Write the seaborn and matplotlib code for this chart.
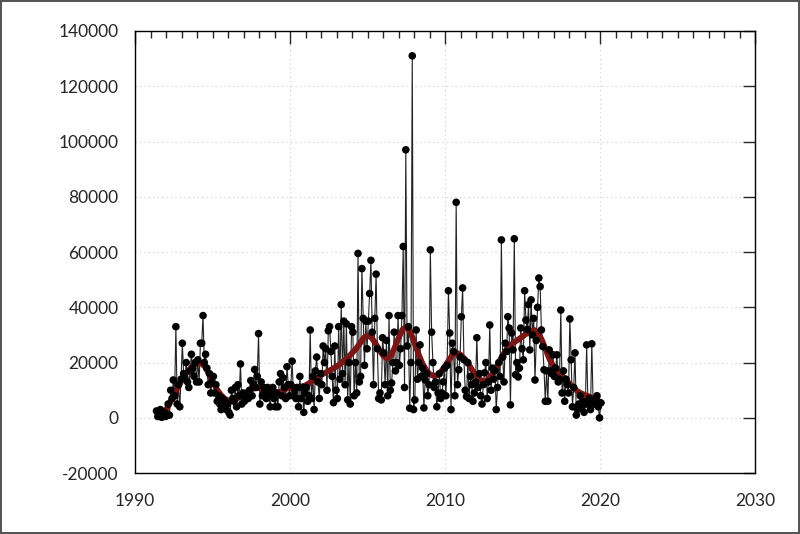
import numpy as np
import pandas as pd
import matplotlib
matplotlib.use("Agg")
import matplotlib.pyplot as plt
from matplotlib.ticker import MultipleLocator
import seaborn as sns

# monthly values in thousands, first month is May 1991
first_month = "1991-05"
counts_k = [
    2.5, 0.5, 1.5, 3.0, 0.2, 0.8, 2.0, 0.5,                              # 1991
    1.0, 5.0, 1.0, 10.0, 7.0, 13.7, 8.0, 33.0, 5.0, 12.0, 4.0, 14.0,     # 1992
    27.0, 16.0, 14.5, 20.0, 13.0, 11.0, 17.0, 23.0, 18.0, 15.0, 20.0, 13.0,  # 1993
    21.0, 13.0, 27.0, 27.0, 37.0, 20.0, 23.0, 18.0, 12.0, 16.0, 9.0, 13.0,   # 1994
    15.0, 9.0, 12.0, 6.0, 8.0, 5.0, 3.0, 7.0, 4.0, 6.0, 3.0, 5.0,        # 1995
    2.0, 1.0, 10.0, 7.0, 6.0, 11.0, 4.0, 12.0, 8.0, 19.5, 5.0, 9.0,      # 1996
    6.0, 8.0, 9.0, 7.0, 10.0, 13.5, 8.0, 12.0, 17.5, 11.0, 15.0, 30.5,   # 1997
    5.0, 13.0, 8.0, 11.0, 10.0, 7.0, 11.0, 8.0, 4.0, 9.0, 11.0, 7.0,     # 1998
    4.0, 9.0, 4.0, 13.0, 16.0, 8.0, 14.5, 11.0, 7.0, 18.5, 12.0, 8.0,    # 1999
    12.0, 20.5, 8.0, 10.0, 7.0, 11.0, 4.0, 15.0, 7.0, 11.0, 2.0, 9.0,    # 2000
    11.0, 6.0, 8.0, 31.8, 7.0, 15.0, 3.0, 17.0, 22.0, 13.0, 7.0, 16.0,   # 2001
    12.0, 26.0, 20.0, 25.0, 10.0, 31.5, 33.0, 24.0, 15.0, 5.5, 26.0, 10.0,   # 2002
    7.0, 33.0, 14.0, 41.0, 16.0, 35.0, 12.0, 34.0, 6.5, 20.0, 5.0, 33.0,     # 2003
    31.0, 8.0, 20.0, 9.0, 59.5, 13.0, 15.0, 54.0, 36.0, 19.0, 35.0, 25.0,    # 2004
    35.0, 45.0, 57.0, 31.0, 12.0, 36.0, 52.0, 25.0, 7.0, 9.0, 6.5, 29.0,     # 2005
    23.5, 12.0, 28.0, 8.0, 37.0, 10.0, 12.6, 20.0, 31.0, 17.0, 20.0, 37.0,   # 2006
    19.0, 25.0, 37.0, 62.0, 11.0, 97.0, 26.0, 33.0, 3.5, 20.0, 131.0, 3.0,   # 2007
    6.5, 31.8, 14.0, 20.0, 26.4, 15.0, 18.0, 3.6, 13.7, 16.0, 8.0, 12.0,     # 2008
    60.8, 31.0, 20.0, 11.0, 13.0, 4.0, 9.0, 16.0, 7.0, 9.0, 13.0, 18.0,      # 2009
    8.0, 19.0, 46.0, 30.7, 3.0, 27.0, 24.0, 8.0, 78.0, 12.0, 17.4, 22.0,     # 2010
    36.6, 47.0, 21.0, 10.0, 7.7, 20.0, 7.0, 15.0, 12.0, 6.0, 9.0, 13.0,      # 2011
    29.0, 11.0, 16.0, 8.0, 5.0, 12.0, 16.3, 20.0, 7.0, 13.0, 33.6, 10.0,     # 2012
    18.0, 14.0, 17.0, 3.0, 11.0, 20.0, 15.0, 64.4, 22.0, 13.0, 27.0, 24.0,   # 2013
    36.6, 32.5, 4.7, 30.7, 24.6, 64.8, 15.6, 20.0, 14.8, 18.0, 32.5, 25.0,   # 2014
    21.0, 46.0, 35.4, 32.0, 41.0, 24.6, 42.7, 30.0, 36.0, 13.7, 28.0, 40.0,  # 2015
    50.6, 47.5, 31.8, 25.8, 17.4, 6.0, 17.0, 6.0, 24.6, 17.0, 16.0, 22.8,    # 2016
    15.0, 18.0, 22.8, 13.0, 14.0, 39.0, 9.0, 17.0, 6.0, 14.0, 12.0, 9.0,     # 2017
    35.8, 21.0, 4.0, 11.0, 23.5, 1.0, 3.0, 5.0, 8.0, 3.5, 6.0, 2.0,          # 2018
    5.0, 26.4, 5.0, 7.0, 3.0, 26.8, 6.0, 5.0, 7.0, 8.0, 4.0, 0.0,            # 2019
    5.4,                                                                     # 2020
]

# smoothed trend (thousands)
trend_years = [
    1991.5, 1991.75, 1992.0, 1992.25, 1992.5, 1992.75, 1993.0, 1993.25, 1993.5, 1993.75,
    1994.0, 1994.25, 1994.5, 1994.75, 1995.0, 1995.25, 1995.5, 1995.75, 1996.0, 1996.25,
    1996.5, 1996.75, 1997.0, 1997.25, 1997.5, 1997.75, 1998.0, 1998.25, 1998.5, 1998.75,
    1999.0, 1999.25, 1999.5, 1999.75, 2000.0, 2000.25, 2000.5, 2000.75, 2001.0, 2001.25,
    2001.5, 2001.75, 2002.0, 2002.25, 2002.5, 2002.75, 2003.0, 2003.25, 2003.5, 2003.75,
    2004.0, 2004.25, 2004.5, 2004.75, 2005.0, 2005.25, 2005.5, 2005.75, 2006.0, 2006.25,
    2006.5, 2006.75, 2007.0, 2007.25, 2007.5, 2007.75, 2008.0, 2008.25, 2008.5, 2008.75,
    2009.0, 2009.25, 2009.5, 2009.75, 2010.0, 2010.25, 2010.5, 2010.75, 2011.0, 2011.25,
    2011.5, 2011.75, 2012.0, 2012.25, 2012.5, 2012.75, 2013.0, 2013.25, 2013.5, 2013.75,
    2014.0, 2014.25, 2014.5, 2014.75, 2015.0, 2015.25, 2015.5, 2015.75, 2016.0, 2016.25,
    2016.5, 2016.75, 2017.0, 2017.25, 2017.5, 2017.75, 2018.0, 2018.25, 2018.5, 2018.75,
    2019.0, 2019.25, 2019.5, 2019.75, 2020.0, 2020.1,
]
trend_k = [
    0.8, 1.8, 3.0, 5.5, 8.5, 11.0, 13.5, 15.8, 17.5, 19.0,
    19.8, 19.8, 18.5, 16.0, 13.0, 10.5, 8.5, 7.0, 6.3, 6.3,
    6.8, 7.5, 8.3, 9.3, 10.3, 10.8, 10.8, 10.3, 9.7, 9.2,
    9.0, 9.2, 9.8, 10.5, 11.0, 11.2, 11.2, 11.3, 11.8, 12.6,
    13.6, 14.6, 15.5, 16.3, 17.0, 17.8, 18.6, 19.6, 20.8, 22.0,
    23.5, 25.0, 27.0, 29.0, 29.8, 29.0, 27.0, 24.5, 22.5, 21.5,
    22.5, 25.5, 29.0, 32.0, 33.0, 31.0, 27.5, 23.5, 20.0, 17.5,
    15.8, 15.2, 15.5, 16.8, 18.8, 21.0, 23.0, 23.5, 22.8, 21.3,
    19.5, 17.2, 15.2, 13.8, 13.2, 13.8, 15.5, 17.8, 20.5, 23.0,
    25.0, 26.5, 27.5, 28.5, 29.5, 30.5, 31.3, 31.8, 30.8, 28.0,
    24.5, 21.0, 18.5, 16.8, 15.5, 14.0, 12.5, 11.0, 9.8, 8.9,
    8.3, 7.8, 7.3, 6.6, 5.8, 5.5,
]

dates = pd.date_range(first_month, periods=len(counts_k), freq="MS")
df = pd.DataFrame({
    "year": dates.year + (dates.month - 0.5) / 12,
    "value": np.array(counts_k) * 1000,
})
trend = pd.DataFrame({"year": trend_years, "value": np.array(trend_k) * 1000})

sns.set_style("white")
plt.rcParams["font.family"] = ["Lato", "DejaVu Sans"]
plt.rcParams["axes.unicode_minus"] = False

fig = plt.figure(figsize=(8, 5.34), dpi=100)
fig.patch.set_edgecolor("#555555")
fig.patch.set_linewidth(1.5)
ax = fig.add_axes([0.169, 0.114, 0.775, 0.828])

sns.lineplot(data=df, x="year", y="value", ax=ax, color="#222222", lw=0.8,
             estimator=None, sort=False, zorder=2)
sns.lineplot(data=trend, x="year", y="value", ax=ax, color="#7a1616", lw=4.2,
             estimator=None, sort=False, zorder=3)
sns.scatterplot(data=df, x="year", y="value", ax=ax, color="black", s=30,
                edgecolor="none", zorder=4)

ax.set_xlim(1990, 2030)
ax.set_ylim(-20000, 140000)
ax.xaxis.set_major_locator(MultipleLocator(10))
ax.xaxis.set_minor_locator(MultipleLocator(1))
ax.yaxis.set_major_locator(MultipleLocator(20000))
ax.set_xlabel("")
ax.set_ylabel("")

ax.grid(True, which="major", color="#cccccc", linestyle=(0, (1, 3)), lw=0.8)
ax.tick_params(which="major", direction="in", length=9, width=1,
               top=True, right=True, labelsize=12.5)
ax.tick_params(axis="y", which="major", pad=12)
ax.tick_params(axis="x", which="major", pad=14)
ax.tick_params(which="minor", direction="in", length=5, width=1,
               top=True, right=False, left=False)
for s in ax.spines.values():
    s.set_color("black")
    s.set_linewidth(1)

fig.savefig("out.png", dpi=100, edgecolor=fig.get_edgecolor())
